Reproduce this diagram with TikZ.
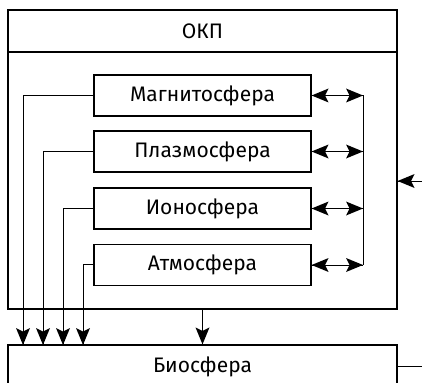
\documentclass[tikz,border=0pt]{standalone}
\usepackage{fontspec}
\setmainfont{Fira Sans}
\usetikzlibrary{calc}
\begin{document}
\begin{tikzpicture}[x=1pt,y=-1pt,
  line width=1.2pt,
  box/.style={draw, rectangle, inner sep=0pt, font=\fontsize{21}{24}\selectfont},
  sph/.style={box, minimum width=217pt, minimum height=41pt},
  conn/.style={line width=0.9pt},
  ahd/.pic={\fill (0,0) -- (-7,-17) -- (0,-13.5) -- (7,-17) -- cycle;},
  ahl/.pic={\fill (0,0) -- (17,-7) -- (13.5,0) -- (17,7) -- cycle;},
  ahr/.pic={\fill (0,0) -- (-17,-7) -- (-13.5,0) -- (-17,7) -- cycle;}]
\useasboundingbox (0,0) rectangle (422,382);
% outer box
\node[box, minimum width=389pt, minimum height=299pt] (okp) at (202.5,159.5) {};
\node[font=\fontsize{21}{24}\selectfont, inner sep=0pt] (title) at (202.5,31) {ОКП};
\coordinate (s1) at (8,52);
\coordinate (s2) at (397,52);
\draw (s1) -- (s2);
% spheres
\node[sph] (mag) at (202.5,95.5) {Магнитосфера};
\node[sph] (pla) at (202.5,151.5) {Плазмосфера};
\node[sph] (ion) at (202.5,208.5) {Ионосфера};
\node[sph] (atm) at (202.5,265) {Атмосфера};
% biosphere
\node[box, minimum width=389pt, minimum height=44pt] (bio) at (202.5,367) {Биосфера};
% bus
\coordinate (bus) at (363,95.5);
\draw[conn] (mag.east -| bus) -- (atm.east -| bus);
\foreach \n in {mag,pla,ion,atm}{
  \draw[conn] (\n.east) -- (\n.east -| bus);
  \pic at (\n.east) {ahl};
  \pic at (\n.east -| bus) {ahr};
}
% left feeds
\coordinate (f1) at (23,345);
\coordinate (f2) at (43,345);
\coordinate (f3) at (63,345);
\coordinate (f4) at (83,345);
\draw[conn] (mag.west) -| (f1);
\draw[conn] (pla.west) -| (f2);
\draw[conn] (ion.west) -| (f3);
\draw[conn] ($(atm.west)+(0,-1)$) -| (f4);
\foreach \f in {f1,f2,f3,f4}{\pic at (\f) {ahd};}
% center
\draw[conn] (okp.south) -- (bio.north);
\pic at (bio.north) {ahd};
% right side
\coordinate (rin) at (422,181);
\coordinate (rout) at (422,366);
\draw[conn] (rin) -- (rin -| okp.east);
\pic at (rin -| okp.east) {ahl};
\draw[conn] (bio.east |- rout) -- (rout);
\end{tikzpicture}
\end{document}
